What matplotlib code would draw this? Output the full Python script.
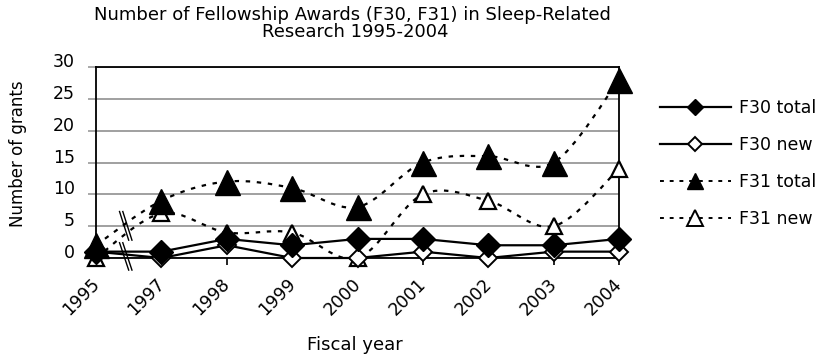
import numpy as np
import matplotlib
matplotlib.use('Agg')
import matplotlib.pyplot as plt
from matplotlib.path import Path
from matplotlib.patches import PathPatch
from matplotlib.lines import Line2D
from matplotlib.transforms import ScaledTranslation

plt.rcParams['font.family'] = ['DejaVu Sans']

years = ['1995', '1997', '1998', '1999', '2000', '2001', '2002', '2003', '2004']
f30_total = [1, 1, 3, 2, 3, 3, 2, 2, 3]
f30_new = [1, 0, 2, 0, 0, 1, 0, 1, 1]
f31_total = [2, 9, 12, 11, 8, 15, 16, 15, 28]
f31_new = [0, 7, 4, 4, 0, 10, 9, 5, 14]


def smooth_path(xs, ys):
    # excel-style smoothed line through the points
    pts = np.column_stack([xs, ys]).astype(float)
    verts = [pts[0]]
    codes = [Path.MOVETO]
    n = len(pts)
    for i in range(n - 1):
        p0 = pts[i - 1] if i > 0 else pts[i]
        p1 = pts[i]
        p2 = pts[i + 1]
        p3 = pts[i + 2] if i + 2 < n else pts[i + 1]
        verts += [p1 + (p2 - p0) / 6, p2 - (p3 - p1) / 6, p2]
        codes += [Path.CURVE4] * 3
    return Path(verts, codes)


fig = plt.figure(figsize=(8.24, 3.6), dpi=100)
ax = fig.add_axes([96 / 824, 1 - 258 / 360, 523 / 824, 191 / 360])
x = np.arange(len(years))

dash = (0, (2, 3))
for ys in [f31_total, f31_new]:
    ax.add_patch(PathPatch(smooth_path(x, ys), facecolor='none', edgecolor='black',
                           lw=1.6, linestyle=dash, clip_on=False, zorder=3))

ax.plot(x, f30_total, color='black', lw=1.6, zorder=4, clip_on=False)
ax.plot(x, f30_new, color='black', lw=1.6, zorder=4, clip_on=False)

ax.plot(x, f31_new, ls='none', marker='^', ms=12, mfc='white', mec='black', mew=1.6,
        zorder=5, clip_on=False)
ax.plot(x, f30_new, ls='none', marker='D', ms=9, mfc='white', mec='black', mew=1.4,
        zorder=6, clip_on=False)
ax.plot(x, f31_total, ls='none', marker='^', ms=18, color='black', zorder=7, clip_on=False)
ax.plot(x, f30_total, ls='none', marker='D', ms=12, color='black', zorder=8, clip_on=False)

# axis break marks between 1995 and 1997
for y0, y1 in [(7.3, 2.8), (2.4, -1.9)]:
    for dx in [0, 0.05]:
        ax.plot([0.36 + dx, 0.5 + dx], [y0, y1], color='black', lw=1.0,
                zorder=9, clip_on=False)

ax.set_xlim(0, 8)
ax.set_ylim(0, 30)
ax.set_yticks(range(0, 31, 5))
ax.set_xticks(x)
ax.set_xticklabels(years, rotation=45, ha='right', va='top')
ax.tick_params(axis='x', length=5, width=1.2, pad=7, labelsize=12.5)
ax.tick_params(axis='y', length=6, width=1.2, color='#999999', pad=9, labelsize=12.5)
for lab in ax.get_yticklabels():
    lab.set_transform(lab.get_transform() + ScaledTranslation(0, 5 / 72, fig.dpi_scale_trans))
for lab in ax.get_xticklabels():
    lab.set_transform(lab.get_transform() + ScaledTranslation(5 / 72, 0, fig.dpi_scale_trans))
ax.yaxis.grid(True, color='#999999', lw=1.3)
ax.set_axisbelow(True)
for sp in ax.spines.values():
    sp.set_color('black')
    sp.set_linewidth(1.3)

fig.text(352 / 824, 1 - 20 / 360, 'Number of Fellowship Awards (F30, F31) in Sleep-Related',
         ha='center', va='baseline', fontsize=13)
fig.text(355 / 824, 1 - 37 / 360, 'Research 1995-2004', ha='center', va='baseline', fontsize=13)
fig.text(355 / 824, 1 - 350 / 360, 'Fiscal year', ha='center', va='baseline', fontsize=13)
fig.text(18 / 824, 1 - 154 / 360, 'Number of grants', ha='center', va='center',
         rotation=90, fontsize=12)

handles = [
    Line2D([], [], color='black', lw=1.6, marker='D', ms=8, mfc='black', mec='black'),
    Line2D([], [], color='black', lw=1.6, marker='D', ms=7.5, mfc='white', mec='black', mew=1.4),
    Line2D([], [], color='black', lw=1.4, ls=dash, marker='^', ms=12, mfc='black', mec='black'),
    Line2D([], [], color='black', lw=1.4, ls=dash, marker='^', ms=11, mfc='white', mec='black', mew=1.4),
]
fig.legend(handles, ['F30 total', 'F30 new', 'F31 total', 'F31 new'],
           loc='upper left', bbox_to_anchor=(644 / 824, 1 - 83 / 360), frameon=False,
           fontsize=12.5, handlelength=4.1, handletextpad=0.45, labelspacing=1.1)

fig.savefig('out.png', dpi=100)
